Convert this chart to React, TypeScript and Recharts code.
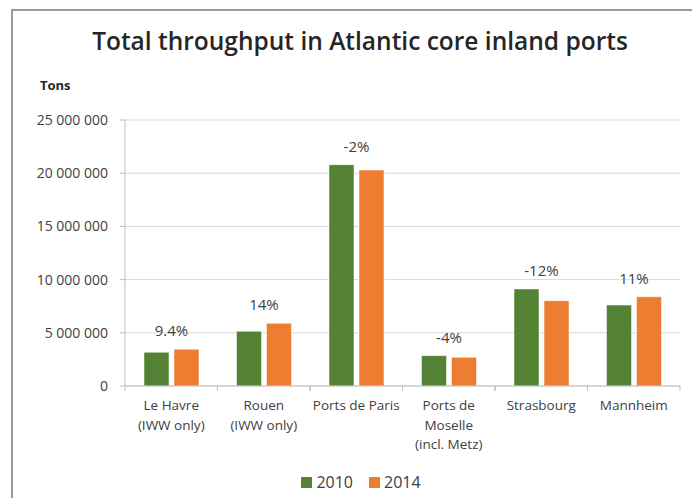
import { BarChart, Bar, XAxis, YAxis, CartesianGrid, Legend, LabelList } from "recharts";

const ports = [
  "Le Havre\n(IWW only)",
  "Rouen\n(IWW only)",
  "Ports de Paris",
  "Ports de\nMoselle\n(incl. Metz)",
  "Strasbourg",
  "Mannheim",
];
const tons2010 = [3170000, 5140000, 20800000, 2850000, 9120000, 7610000];
const tons2014 = [3450000, 5890000, 20300000, 2700000, 8020000, 8390000];
const changeLabels = ["9.4%", "14%", "-2%", "-4%", "-12%", "11%"];
const yTicks = [0, 5000000, 10000000, 15000000, 20000000, 25000000];

const data = ports.map((port, i) => ({
  port,
  y2010: tons2010[i],
  y2014: tons2014[i],
  change: changeLabels[i],
}));

const FONT = "'Open Sans', 'Noto Sans', sans-serif";
const TEXT = "#404040";
const GREEN = "#548235";
const ORANGE = "#ED7D31";
const BAR_GAP = 5;

const fmt = (v: number) => String(v).replace(/\B(?=(\d{3})+(?!\d))/g, " ");

function PortTick(props: any) {
  const { x, y, payload } = props;
  const half = payload?.offset ?? 46;
  const lines = String(payload.value).split("\n");
  return (
    <g>
      <line x1={x - half} x2={x - half} y1={y - 8} y2={y - 3} stroke="#bfbfbf" />
      <line x1={x + half} x2={x + half} y1={y - 8} y2={y - 3} stroke="#bfbfbf" />
      <text x={x} y={y + 16} textAnchor="middle" fill={TEXT} fontSize={13.5} fontFamily={FONT}>
        {lines.map((l, i) => (
          <tspan key={i} x={x} dy={i === 0 ? 0 : 19.5}>
            {l}
          </tspan>
        ))}
      </text>
    </g>
  );
}

function ChangeLabel(props: any) {
  const { x, y, width, height, index } = props;
  const v = tons2010[index];
  const pxPerUnit = height / v;
  const base = y + height;
  const top = Math.min(y, base - tons2014[index] * pxPerUnit);
  const cx = x + width + BAR_GAP / 2;
  return (
    <text x={cx} y={top - 13} textAnchor="middle" fill={TEXT} fontSize={15} fontFamily={FONT}>
      {changeLabels[index]}
    </text>
  );
}

function LegendContent() {
  const items = [
    { label: "2010", color: GREEN },
    { label: "2014", color: ORANGE },
  ];
  return (
    <div
      style={{
        display: "flex",
        justifyContent: "center",
        gap: 16,
        paddingLeft: 42,
        fontFamily: FONT,
        fontSize: 16,
        color: TEXT,
      }}
    >
      {items.map((it) => (
        <div key={it.label} style={{ display: "flex", alignItems: "center", gap: 4 }}>
          <span style={{ width: 11, height: 11, background: it.color, display: "inline-block" }} />
          <span>{it.label}</span>
        </div>
      ))}
    </div>
  );
}

export default function App() {
  return (
    <div style={{ position: "absolute", left: 0, top: 0, width: 692, height: 498, background: "#fff", overflow: "hidden" }}>
      <div
        style={{
          position: "absolute",
          left: 11,
          top: 9,
          width: 700,
          height: 500,
          borderTop: "2px solid #9a9a9a",
          borderLeft: "2px solid #9a9a9a",
        }}
      />
      <div
        style={{
          position: "absolute",
          left: 0,
          width: 720,
          top: 24,
          textAlign: "center",
          fontFamily: FONT,
          fontWeight: 600,
          fontSize: 24.5,
          color: "#262626",
        }}
      >
        Total throughput in Atlantic core inland ports
      </div>
      <div
        style={{
          position: "absolute",
          left: 40,
          top: 76,
          fontFamily: FONT,
          fontWeight: 700,
          fontSize: 13,
          color: "#262626",
        }}
      >
        Tons
      </div>
      <div style={{ position: "absolute", left: 0, top: 0 }}>
        <BarChart
          width={692}
          height={498}
          data={data}
          margin={{ top: 120, right: 12, bottom: 5, left: 0 }}
          barGap={BAR_GAP}
          barCategoryGap="20%"
        >
          <CartesianGrid vertical={false} stroke="#d9d9d9" />
          <XAxis
            dataKey="port"
            height={85}
            tick={<PortTick />}
            tickLine={false}
            axisLine={{ stroke: "#bfbfbf" }}
            interval={0}
          />
          <YAxis
            width={125}
            domain={[0, 25000000]}
            ticks={yTicks}
            tickFormatter={fmt}
            tick={{ fill: TEXT, fontSize: 14, fontFamily: FONT }}
            tickSize={5}
            tickMargin={12}
            tickLine={{ stroke: "#bfbfbf" }}
            axisLine={{ stroke: "#bfbfbf" }}
          />
          <Legend verticalAlign="bottom" content={<LegendContent />} />
          <Bar dataKey="y2010" name="2010" fill={GREEN} stroke="#fff" strokeWidth={0.5} barSize={25} isAnimationActive={false}>
            <LabelList dataKey="change" content={<ChangeLabel />} />
          </Bar>
          <Bar dataKey="y2014" name="2014" fill={ORANGE} stroke="#fff" strokeWidth={0.5} barSize={25} isAnimationActive={false} />
        </BarChart>
      </div>
    </div>
  );
}
